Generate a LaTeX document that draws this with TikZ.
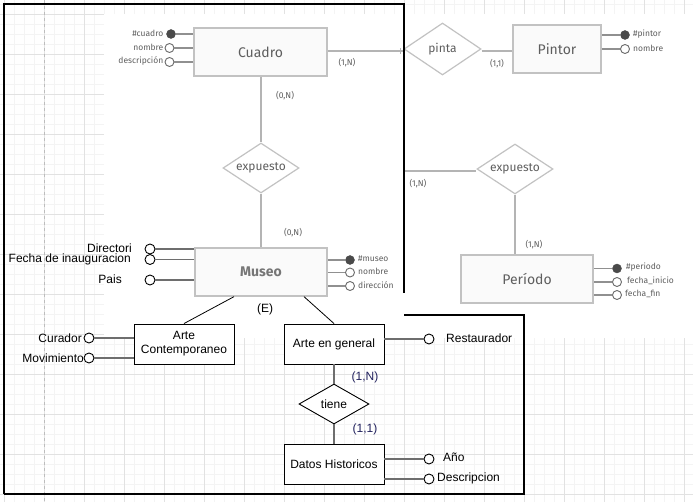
\documentclass[tikz,border=0pt]{standalone}
\usepackage{fontspec}
\setmainfont{Liberation Sans}
\newfontfamily\imgfont{Fira Sans}
\usetikzlibrary{shapes.geometric}
\definecolor{imgline}{HTML}{B4B4B4}
\definecolor{imgbox}{HTML}{C2C2C2}
\definecolor{imgtext}{HTML}{5E5E5E}
\definecolor{imgdot}{HTML}{4A4A4A}
\definecolor{imgring}{HTML}{6A6A6A}
\definecolor{attline}{HTML}{6E6E6E}
\definecolor{gridmin}{HTML}{F4F4F4}
\definecolor{gridmaj}{HTML}{E2E2E2}
\definecolor{pagebrk}{HTML}{BDBDBD}
\definecolor{cardnavy}{HTML}{22225E}
\tikzset{
  imgent/.style={draw=imgbox, fill=white!98!black, line width=1.3pt, inner sep=0,
    font=\imgfont\fontsize{14}{16}\selectfont, text=imgtext},
  imgrel/.style={diamond, aspect=1.5, draw=imgbox, fill=white, line width=1.2pt, inner sep=0,
    font=\imgfont\fontsize{12}{14}\selectfont, text=imgtext},
  imgconn/.style={draw=imgline, line width=1.3pt},
  imgattconn/.style={draw=imgline!80!black, line width=1.6pt},
  imgkey/.style={circle, fill=imgdot, draw=imgdot, minimum size=9pt, inner sep=0},
  imgatt/.style={circle, fill=white, draw=imgring, line width=0.9pt, minimum size=9pt, inner sep=0},
  imglab/.style={font=\imgfont\fontsize{8.5}{10}\selectfont, text=imgtext, inner sep=0},
  imgcard/.style={font=\imgfont\fontsize{8.5}{10}\selectfont, text=imgtext, inner sep=0},
  dent/.style={draw=black, fill=white, line width=0.9pt, minimum width=100pt, minimum height=40pt,
    inner sep=1pt, align=center, font=\fontsize{12}{14}\selectfont},
  drel/.style={diamond, aspect=1.75, draw=black, fill=white, line width=0.9pt, inner sep=0,
    minimum width=70pt, minimum height=40pt, font=\fontsize{12}{14}\selectfont},
  datt/.style={circle, draw=black, fill=white, line width=0.9pt, minimum size=10pt, inner sep=0},
  dattconn/.style={draw=attline, line width=1.6pt},
  dconn/.style={draw=black, line width=0.8pt},
  dlab/.style={font=\fontsize{12}{14}\selectfont, inner sep=0},
  dcard/.style={font=\fontsize{12}{14}\selectfont, text=cardnavy, inner sep=0},
  frame/.style={draw=black, line width=1.2pt}
}
\begin{document}
\begin{tikzpicture}[x=1pt,y=-1pt]
\useasboundingbox (0,0) rectangle (693,502);
% background grid
\fill[white] (0,0) rectangle (693,502);
\foreach \x in {4.5,14.5,...,694.5} \draw[gridmin, line width=0.8pt] (\x,0) -- (\x,502);
\foreach \y in {4,14,...,504} \draw[gridmin, line width=0.8pt] (0,\y) -- (693,\y);
\foreach \x in {4.5,44.5,...,694.5} \draw[gridmaj, line width=0.9pt] (\x,0) -- (\x,502);
\foreach \y in {14,54,...,504} \draw[gridmaj, line width=0.9pt] (0,\y) -- (693,\y);
\draw[pagebrk, dashed, line width=0.9pt] (44.5,0) -- (44.5,502);
% pasted diagram area
\fill[white] (104,14) rectangle (693,338);

% ---------- pasted diagram (gray style) ----------
\node[imgent, minimum width=133pt, minimum height=48pt] (Cuadro) at (260.5,52) {Cuadro};
\node[imgent, minimum width=88pt, minimum height=48pt] (Pintor) at (557,49) {Pintor};
\node[imgent, minimum width=132pt, minimum height=48pt, font=\imgfont\bfseries\fontsize{14}{16}\selectfont, text=imgtext!85] (Museo) at (261,272) {Museo};
\node[imgent, minimum width=132pt, minimum height=48pt] (Periodo) at (527,279) {Período};

\node[imgrel, minimum width=77pt, minimum height=52pt] (pinta) at (442.5,49) {pinta};
\node[imgrel, minimum width=76pt, minimum height=50pt] (exp1) at (261,168) {expuesto};
\node[imgrel, minimum width=76pt, minimum height=50pt] (exp2) at (515,169) {expuesto};

\coordinate (museoside) at (404,171);

\draw[imgconn] (Cuadro.east |- 0,51) -- (pinta.west |- 0,51);
\draw[imgline, line width=1pt] ([xshift=-3pt,yshift=-3pt]pinta.west |- 0,51) -- ([xshift=-3pt,yshift=3pt]pinta.west |- 0,51);
\draw[imgconn] (pinta.east |- 0,51) -- (Pintor.west |- 0,51);
\draw[imgconn] (Cuadro.south -| exp1.north) -- (exp1.north);
\draw[imgconn] (exp1.south) -- (exp1.south |- Museo.north);
\draw[imgconn] (museoside) -- (exp2.west |- museoside);
\draw[imgconn] (exp2.south) -- (exp2.south |- Periodo.north);

\node[imgcard] (c1) at (347,63) {(1,N)};
\node[imgcard] (c2) at (497,64) {(1,1)};
\node[imgcard] (c3) at (285,96) {(0,N)};
\node[imgcard] (c4) at (293,233) {(0,N)};
\node[imgcard] (c5) at (418,184) {(1,N)};
\node[imgcard] (c6) at (534,245) {(1,N)};

% Cuadro attributes
\node[imgkey] (ck) at (171,34) {};
\node[imgatt] (cn) at (169.5,48) {};
\node[imgatt] (cd) at (169.5,62) {};
\draw[imgattconn] (ck.east) -- (ck.east -| Cuadro.west);
\draw[imgattconn] (cn.east) -- (cn.east -| Cuadro.west);
\draw[imgattconn] (cd.east) -- (cd.east -| Cuadro.west);
\node[imglab, anchor=east] (lck) at (163.5,33.5) {\#cuadro};
\node[imglab, anchor=east] (lcn) at (163.5,47.5) {nombre};
\node[imglab, anchor=east] (lcd) at (163.5,61.5) {descripción};

% Pintor attributes
\node[imgkey] (pk) at (625,35) {};
\node[imgatt] (pn) at (625,49) {};
\draw[imgattconn] (pk.west) -- (pk.west -| Pintor.east);
\draw[imgattconn] (pn.west) -- (pn.west -| Pintor.east);
\node[imglab, anchor=west] (lpk) at (633,34) {\#pintor};
\node[imglab, anchor=west] (lpn) at (633,48) {nombre};

% Museo attributes (right)
\node[imgkey] (mk) at (350,260) {};
\node[imgatt] (mn) at (350,272.5) {};
\node[imgatt] (md) at (350,286) {};
\draw[imgattconn] (mk.west) -- (mk.west -| Museo.east);
\draw[imgattconn] (mn.west) -- (mn.west -| Museo.east);
\draw[imgattconn] (md.west) -- (md.west -| Museo.east);
\node[imglab, anchor=west] (lmk) at (358,259) {\#museo};
\node[imglab, anchor=west] (lmn) at (358,271.5) {nombre};
\node[imglab, anchor=west] (lmd) at (358,285.5) {dirección};

% Periodo attributes
\node[imgkey] (ek) at (617,268.5) {};
\node[imgatt] (ei) at (617,282) {};
\node[imgatt] (ef) at (617,295) {};
\draw[imgattconn] (ek.west) -- (ek.west -| Periodo.east);
\draw[imgattconn] (ei.west) -- (ei.west -| Periodo.east);
\draw[imgattconn] (ef.west) -- (ef.west -| Periodo.east);
\node[imglab, anchor=west] (lek) at (626,267.5) {\#periodo};
\node[imglab, anchor=west] (lei) at (627,281) {fecha\_inicio};
\node[imglab, anchor=west] (lef) at (625,294) {fecha\_fin};

% ---------- frame ----------
\draw[frame] (4,494) -- (4,4) -- (404,4) -- (404,293);
\draw[frame] (404,315) -- (524,315) -- (524,494) -- (4,494);

% ---------- draw.io part ----------
\node[dent] (ArteC) at (184,344) {Arte\\Contemporaneo};
\node[dent] (ArteG) at (334,344) {Arte en general};
\node[dent] (DH) at (334,464) {Datos Historicos};
\node[drel] (tiene) at (334,404) {tiene};

\draw[dconn] ([xshift=-27pt]Museo.south) -- (ArteC.north);
\draw[dconn] ([xshift=43pt]Museo.south) -- (ArteG.north);
\node[dlab] (E) at (265,309) {(E)};

\draw[dattconn] (ArteG.south) -- (tiene.north);
\draw[dattconn] (tiene.south) -- (DH.north);
\node[dcard] (tN) at (365,377) {(1,N)};
\node[dcard] (t1) at (365,429) {(1,1)};

% Museo attributes (left)
\node[datt] (dir) at (150,249) {};
\node[datt] (fin) at (150,259.5) {};
\node[datt] (pai) at (150,280) {};
\draw[dattconn] (dir.east) -- (dir.east -| Museo.west);
\draw[dattconn] (fin.east) -- (fin.east -| Museo.west);
\draw[dattconn] (pai.east) -- (pai.east -| Museo.west);
\node[dlab, anchor=east] (ldir) at (132,248) {Directori};
\node[dlab, anchor=east] (lfin) at (131,259) {Fecha de inauguracion};
\node[dlab, anchor=east] (lpai) at (122,279) {Pais};

% Arte Contemporaneo attributes
\node[datt] (cur) at (89,338) {};
\node[datt] (mov) at (89,358) {};
\draw[dattconn] (cur.east) -- (cur.east -| ArteC.west);
\draw[dattconn] (mov.east) -- (mov.east -| ArteC.west);
\node[dlab, anchor=east] (lcur) at (82,338) {Curador};
\node[dlab, anchor=east] (lmov) at (84,358) {Movimiento};

% Arte en general attribute
\node[datt] (res) at (429,339) {};
\draw[dattconn] (res.west -| ArteG.east) -- (res.west);
\node[dlab, anchor=west] (lres) at (446,338) {Restaurador};

% Datos Historicos attributes
\node[datt] (ano) at (429,459) {};
\node[datt] (des) at (429,479) {};
\draw[dattconn] (ano.west -| DH.east) -- (ano.west);
\draw[dattconn] (des.west -| DH.east) -- (des.west);
\node[dlab, anchor=west] (lano) at (443,457.5) {Año};
\node[dlab, anchor=west] (ldes) at (437,478.5) {Descripcion};
\end{tikzpicture}
\end{document}
